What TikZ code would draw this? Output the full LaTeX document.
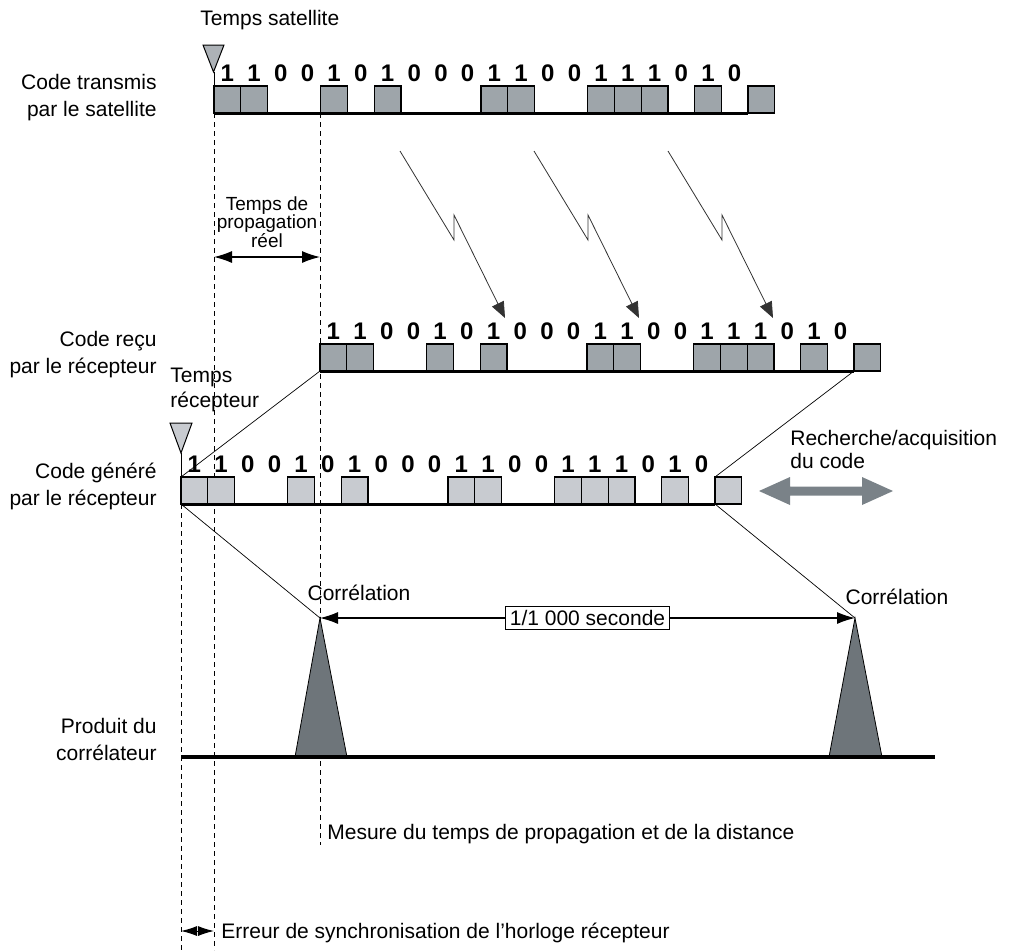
\documentclass[tikz,border=0pt]{standalone}
\usepackage{fontspec}
\setmainfont{Liberation Sans}
\usepackage{tikz}
\usetikzlibrary{arrows.meta,calc}
\usepackage{xcolor}
\definecolor{chipdark}{RGB}{158,165,170}
\definecolor{chiplight}{RGB}{200,203,208}
\definecolor{peakgray}{RGB}{110,117,122}
\definecolor{arrowgray}{RGB}{122,130,136}
\newcommand{\chipbits}{1,1,0,0,1,0,1,0,0,0,1,1,0,0,1,1,1,0,1,0}
% #1 left end, #2 base line, #3 chip fill, #4 name prefix
\newcommand{\coderow}[4]{%
  \foreach \b [count=\i from 0] in \chipbits {%
    \node[bit] (#4\i) at ({#1+(\i+0.5)*26.7},{#2-40}) {\b};
    \ifnum\b=1 \draw[chip,fill=#3] ({#1+\i*26.7},#2) rectangle ++(26.7,-27);\fi
  }
  \draw[chip,fill=#3] ({#1+20*26.7},#2) rectangle ++(26.7,-27);
  \draw[codeline] (#1,#2) -- ({#1+20*26.7},#2);
}

\begin{document}
\begin{tikzpicture}[x=0.5pt,y=-0.5pt,>=Latex,
  lbl/.style={font=\fontsize{10.5}{13.5}\selectfont,inner sep=0pt},
  bit/.style={font=\fontsize{12}{12}\selectfont\bfseries,inner sep=0pt},
  chip/.style={draw=black,line width=0.6pt},
  codeline/.style={line width=1.5pt},
  guide/.style={line width=0.5pt,dash pattern=on 2.5pt off 2pt},
  thinline/.style={line width=0.35pt},
  dim/.style={{Latex[length=9pt,width=6pt]}-{Latex[length=9pt,width=6pt]},line width=0.6pt},
  bolt/.style={-{Triangle[length=8pt,width=6.5pt]},line width=0.4pt,draw=black!80},
  peak/.style={fill=peakgray,draw=black,line width=0.4pt}]
\useasboundingbox (0,0) rectangle (1009,950);

\coordinate (tA) at (214,113);
\coordinate (tAend) at (214,950);
\coordinate (tB) at (320,113);
\coordinate (tBend) at (320,845);
\coordinate (gA) at (181,504);
\coordinate (gAend) at (181,950);
\coordinate (rxA) at (320,371);
\coordinate (rxB) at (854,371);
\coordinate (gnA) at (181,477);
\coordinate (gnB) at (715,477);
\coordinate (gnBb) at (715,504);
\coordinate (pkA) at (320,618);
\coordinate (pkB) at (855,618);

\draw[guide] (tA) -- (tAend);
\draw[guide] (tB) -- (tBend);
\draw[guide] (gA) -- (gAend);

\draw[thinline] (rxA) -- (gnA);
\draw[thinline] (rxB) -- (gnB);
\draw[thinline] (gA) -- (pkA);
\draw[thinline] (gnBb) -- (pkB);

% satellite code
\node[lbl,anchor=base west] (tsat) at (200,25) {Temps satellite};
\draw[line width=0.5pt,fill=chipdark!85] (203,45) -- (224,45) -- (213.5,72) -- cycle;
\draw[line width=0.5pt] (214,72) -- (214,87);
\node[lbl,anchor=east,align=right] (txlbl) at (157,98) {Code transmis\\par le satellite};
\coderow{214}{113}{chipdark}{tx}

\foreach \dx in {0,134,268}
  \draw[bolt] ({400+\dx},151) -- ({454+\dx},240) -- ({454+\dx},215) -- ({505+\dx},318);

\node[font=\fontsize{9.5}{9.4}\selectfont,align=center,inner sep=0pt] (tprop) at (267,222) {Temps de\\propagation\\réel};
\coordinate (propA) at (214,257);
\coordinate (propB) at (320,257);
\draw[dim] (propA) -- (propB);

% received code
\node[lbl,anchor=east,align=right] (rxlbl) at (157,355) {Code reçu\\par le récepteur};
\coderow{320}{371}{chipdark}{rx}

% generated code
\node[lbl,anchor=west,align=left,font=\fontsize{10.5}{12.5}\selectfont] (trec) at (170,390) {Temps\\récepteur};
\draw[line width=0.5pt,fill=chiplight] (170,423) -- (192,423) -- (181,453) -- cycle;
\draw[line width=0.5pt] (181,453) -- (gnA);
\node[lbl,anchor=east,align=right] (gnlbl) at (157,486) {Code généré\\par le récepteur};
\coderow{181}{504}{chiplight}{gn}

\node[lbl,anchor=west,align=left,font=\fontsize{10.5}{11.5}\selectfont] (search) at (790,449) {Recherche/acquisition\\du code};
\fill[arrowgray] (759,491) -- (790,477) -- (790,486.5) -- (862,486.5) -- (862,477)
  -- (893,491) -- (862,505) -- (862,495.5) -- (790,495.5) -- (790,505) -- cycle;

% correlator output
\draw[peak] (295,757) -- (pkA) -- (347,757) -- cycle;
\draw[peak] (829,757) -- (pkB) -- (882,757) -- cycle;
\draw[line width=1.7pt] (181,757) -- (935,757);
\node[lbl,anchor=base] (corrA) at (359,600) {Corrélation};
\node[lbl,anchor=base] (corrB) at (897,604) {Corrélation};
\draw[dim] (pkA) -- (pkB) node[midway,draw,fill=white,line width=0.4pt,font=\fontsize{10.5}{12}\selectfont,inner sep=2pt] (period) {1/1 000 seconde};
\node[lbl,anchor=east,align=right] (prlbl) at (157,739) {Produit du\\corrélateur};

\node[lbl,anchor=base west] (mesure) at (327,839) {Mesure du temps de propagation et de la distance};
\coordinate (errA) at (181,931);
\coordinate (errB) at (214,931);
\draw[{Latex[length=8pt,width=5pt]}-{Latex[length=8pt,width=5pt]},line width=0.5pt] (errA) -- (errB);
\node[lbl,anchor=base west] (erreur) at (221,938) {Erreur de synchronisation de l'horloge récepteur};
\end{tikzpicture}
\end{document}
